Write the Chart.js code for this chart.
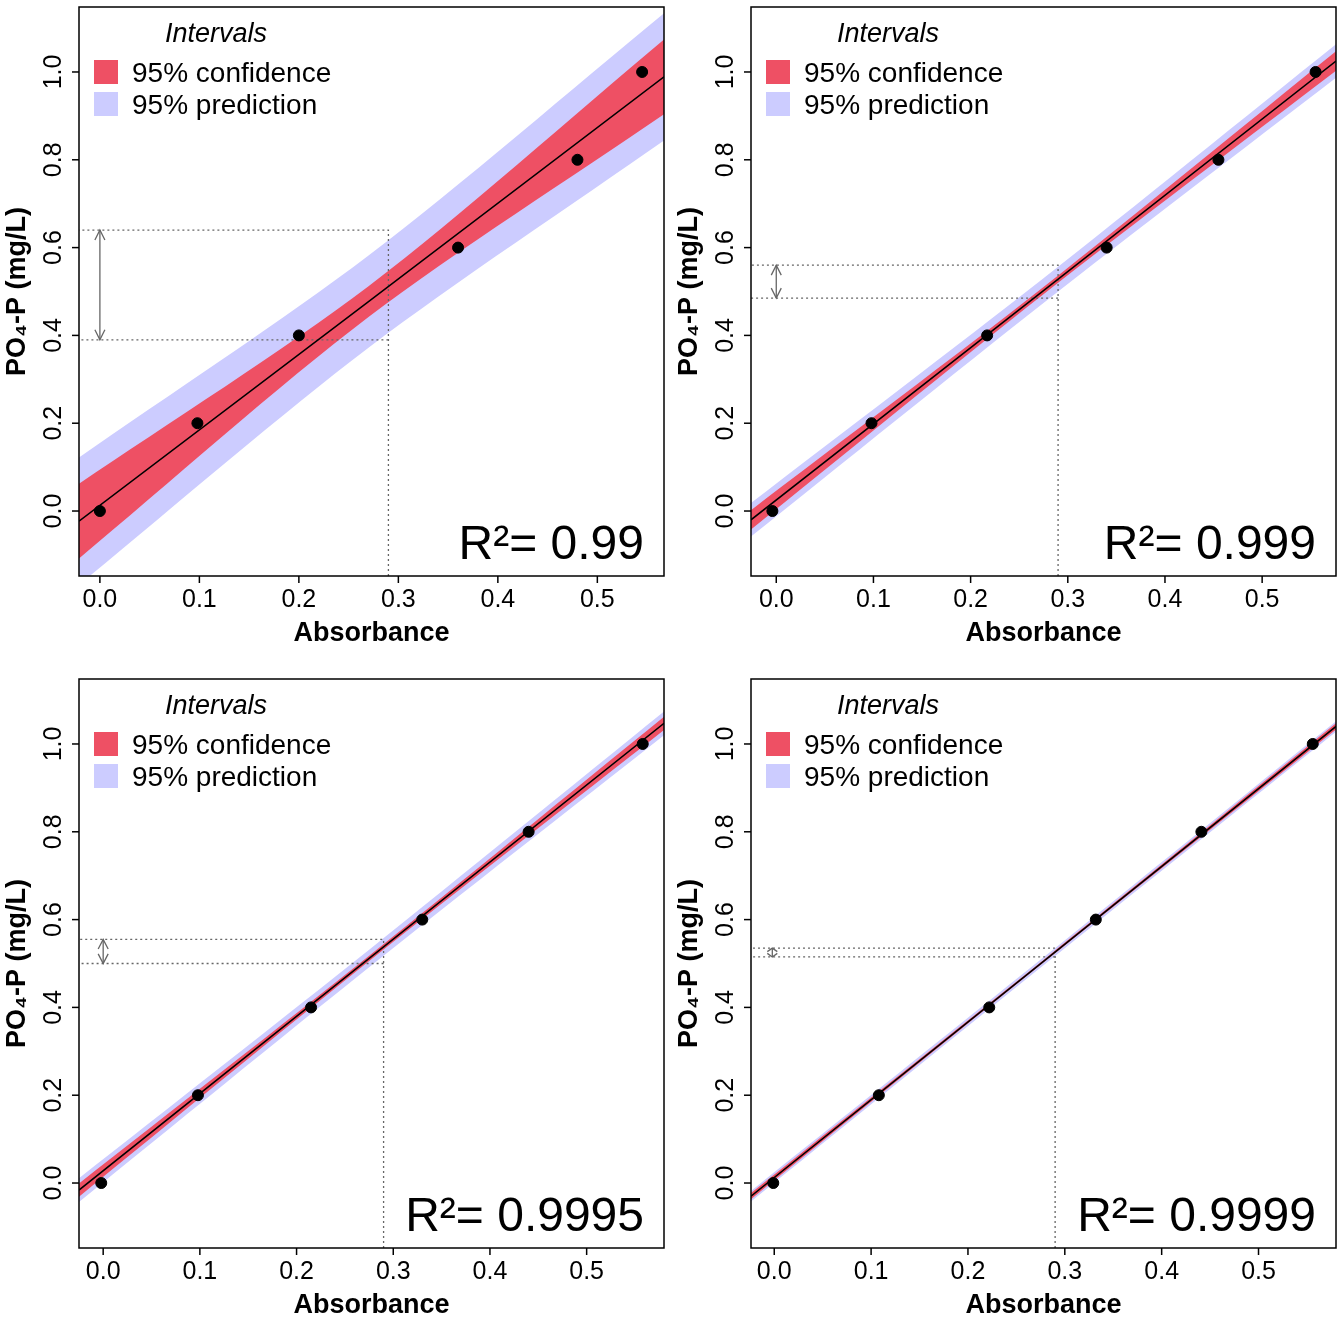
<!DOCTYPE html>
<html>
<head>
<meta charset="utf-8">
<script src="https://cdn.jsdelivr.net/npm/chart.js@4.4.1/dist/chart.umd.min.js"></script>
<style>
  body { margin: 0; background: #fff; }
  #wrap { position: relative; width: 1344px; height: 1344px; }
  .cell { position: absolute; width: 672px; height: 672px; }
</style>
</head>
<body>
<div id="wrap">
  <div class="cell" style="left:0;top:0"><canvas id="c0"></canvas></div>
  <div class="cell" style="left:672px;top:0"><canvas id="c1"></canvas></div>
  <div class="cell" style="left:0;top:672px"><canvas id="c2"></canvas></div>
  <div class="cell" style="left:672px;top:672px"><canvas id="c3"></canvas></div>
</div>
<script>
// Valores
const concentracao = [0.0, 0.2, 0.4, 0.6, 0.8, 1.0];
const absorbancia = [
    [0.0, 0.098, 0.2, 0.36, 0.48, 0.545],
    [-0.004, 0.098, 0.217, 0.34, 0.455, 0.555],
    [-0.002, 0.098, 0.215, 0.33, 0.44, 0.558],
    [-0.001, 0.108, 0.222, 0.332, 0.441, 0.556]
];
const rQuadrado = ['0.99', '0.999', '0.9995', '0.9999'];
const limitesX = [[-0.021, 0.567], [-0.026, 0.576], [-0.025, 0.58], [-0.024, 0.58]];
const limitesY = [-0.148, 1.148];

// Faixas (x nas bordas e no meio)
const faixaX = [[-0.021, 0.27, 0.567], [-0.026, 0.275, 0.576], [-0.025, 0.277, 0.58], [-0.024, 0.278, 0.58]];
const ajuste = [[-0.023, 0.477, 0.989], [-0.02, 0.502, 1.025], [-0.016, 0.515, 1.047], [-0.03, 0.505, 1.04]];
const confSup = [[0.062, 0.512, 1.074], [0.002, 0.51, 1.047], [-0.001, 0.521, 1.062], [-0.023, 0.508, 1.047]];
const confInf = [[-0.108, 0.442, 0.904], [-0.042, 0.494, 1.003], [-0.031, 0.509, 1.032], [-0.037, 0.502, 1.033]];
const predSup = [[0.122, 0.582, 1.134], [0.018, 0.53, 1.063], [0.011, 0.535, 1.074], [-0.018, 0.514, 1.052]];
const predInf = [[-0.168, 0.372, 0.844], [-0.058, 0.474, 0.987], [-0.043, 0.495, 1.02], [-0.042, 0.496, 1.028]];

// Leitura da amostra (linhas pontilhadas)
const absAmostra = 0.29;
const amostraSup = [0.64, 0.56, 0.555, 0.535];
const amostraInf = [0.39, 0.485, 0.50, 0.515];
const xSeta = [0.0, 0.0, 0.0, -0.002];

const ticksX = [0.0, 0.1, 0.2, 0.3, 0.4, 0.5];
const ticksY = [0.0, 0.2, 0.4, 0.6, 0.8, 1.0];

const COR_CONF = 'rgb(238,80,100)';
const COR_PRED = 'rgb(204,204,255)';
const FONTE = '"Liberation Sans", Arial, sans-serif';

const pares = (xs, ys) => xs.map((x, i) => ({ x: x, y: ys[i] }));

const eixosPlugin = {
    id: 'eixos',
    afterDatasetsDraw(chart, args, opts) {
        const i = opts.idx;
        const ctx = chart.ctx;
        const a = chart.chartArea;
        const sx = chart.scales.x, sy = chart.scales.y;
        ctx.save();
        // seta
        const px = sx.getPixelForValue(xSeta[i]);
        const y1 = sy.getPixelForValue(amostraSup[i]), y2 = sy.getPixelForValue(amostraInf[i]);
        ctx.strokeStyle = '#666'; ctx.lineWidth = 1.3;
        ctx.beginPath(); ctx.moveTo(px, y1); ctx.lineTo(px, y2); ctx.stroke();
        const h = Math.min(10, Math.abs(y2 - y1) / 2.5);
        ctx.beginPath();
        ctx.moveTo(px - 5, y1 + h); ctx.lineTo(px, y1); ctx.lineTo(px + 5, y1 + h);
        ctx.moveTo(px - 5, y2 - h); ctx.lineTo(px, y2); ctx.lineTo(px + 5, y2 - h);
        ctx.stroke();
        // moldura
        ctx.strokeStyle = '#000'; ctx.lineWidth = 1.5;
        ctx.strokeRect(a.left, a.top, a.right - a.left, a.bottom - a.top);
        ctx.fillStyle = '#000';
        ctx.font = '25px ' + FONTE;
        // ticks x
        ctx.textAlign = 'center'; ctx.textBaseline = 'top';
        ticksX.forEach(t => {
            const p = sx.getPixelForValue(t);
            ctx.beginPath(); ctx.moveTo(p, a.bottom); ctx.lineTo(p, a.bottom + 7); ctx.stroke();
            ctx.fillText(t.toFixed(1), p, a.bottom + 12);
        });
        // ticks y (rotacionados)
        ticksY.forEach(t => {
            const p = sy.getPixelForValue(t);
            ctx.beginPath(); ctx.moveTo(a.left, p); ctx.lineTo(a.left - 7, p); ctx.stroke();
            ctx.save();
            ctx.translate(a.left - 12, p); ctx.rotate(-Math.PI / 2);
            ctx.textBaseline = 'bottom';
            ctx.fillText(t.toFixed(1), 0, 0);
            ctx.restore();
        });
        // títulos
        ctx.font = 'bold 27px ' + FONTE;
        ctx.textBaseline = 'middle';
        ctx.fillText('Absorbance', (a.left + a.right) / 2, a.bottom + 58);
        ctx.save();
        ctx.translate(18, (a.top + a.bottom) / 2); ctx.rotate(-Math.PI / 2);
        ctx.fillText('PO₄-P (mg/L)', 0, 0);
        ctx.restore();
        // legenda
        ctx.font = 'italic 27px ' + FONTE;
        ctx.fillText('Intervals', a.left + 137, a.top + 27);
        ctx.fillStyle = COR_CONF; ctx.fillRect(a.left + 15, a.top + 53, 24, 24);
        ctx.fillStyle = COR_PRED; ctx.fillRect(a.left + 15, a.top + 85, 24, 24);
        ctx.fillStyle = '#000'; ctx.textAlign = 'left';
        ctx.font = '28px ' + FONTE;
        ctx.fillText('95% confidence', a.left + 53, a.top + 67);
        ctx.fillText('95% prediction', a.left + 53, a.top + 99);
        // R²
        ctx.font = '48px ' + FONTE; ctx.textAlign = 'right'; ctx.textBaseline = 'alphabetic';
        ctx.fillText('R²= ' + rQuadrado[i], a.right - 20, a.bottom - 17);
        ctx.restore();
    }
};

function criarPainel(i) {
    const ctx = document.getElementById('c' + i).getContext('2d');
    const pontilhado = { type: 'line', borderColor: '#666', borderWidth: 1.3, borderDash: [2, 3], pointRadius: 0, fill: false };
    new Chart(ctx, {
        type: 'scatter',
        data: {
            datasets: [
                { type: 'line', order: 8, data: pares(faixaX[i], predSup[i]), borderWidth: 0, pointRadius: 0, backgroundColor: COR_PRED, fill: '+1', tension: 0.3 },
                { type: 'line', order: 7, data: pares(faixaX[i], predInf[i]), borderWidth: 0, pointRadius: 0, fill: false, tension: 0.3 },
                { type: 'line', order: 6, data: pares(faixaX[i], confSup[i]), borderWidth: 0, pointRadius: 0, backgroundColor: COR_CONF, fill: '+1', tension: 0.3 },
                { type: 'line', order: 5, data: pares(faixaX[i], confInf[i]), borderWidth: 0, pointRadius: 0, fill: false, tension: 0.3 },
                Object.assign({ order: 4, data: [{ x: absAmostra, y: limitesY[0] }, { x: absAmostra, y: amostraSup[i] }, { x: limitesX[i][0], y: amostraSup[i] }] }, pontilhado),
                Object.assign({ order: 3, data: [{ x: absAmostra, y: amostraInf[i] }, { x: limitesX[i][0], y: amostraInf[i] }] }, pontilhado),
                { type: 'line', order: 2, data: pares(faixaX[i], ajuste[i]), borderColor: '#000', borderWidth: 1.5, pointRadius: 0, fill: false },
                { order: 1, data: pares(absorbancia[i], concentracao), backgroundColor: '#000', borderColor: '#000', pointRadius: 5.5 }
            ]
        },
        options: {
            responsive: true, maintainAspectRatio: false, animation: false,
            layout: { padding: { left: 79, right: 8, top: 7, bottom: 96 } },
            plugins: { legend: { display: false }, tooltip: { enabled: false }, eixos: { idx: i } },
            scales: {
                x: { type: 'linear', display: false, min: limitesX[i][0], max: limitesX[i][1] },
                y: { type: 'linear', display: false, min: limitesY[0], max: limitesY[1] }
            }
        },
        plugins: [eixosPlugin]
    });
}

[0, 1, 2, 3].forEach(criarPainel);
</script>
</body>
</html>
